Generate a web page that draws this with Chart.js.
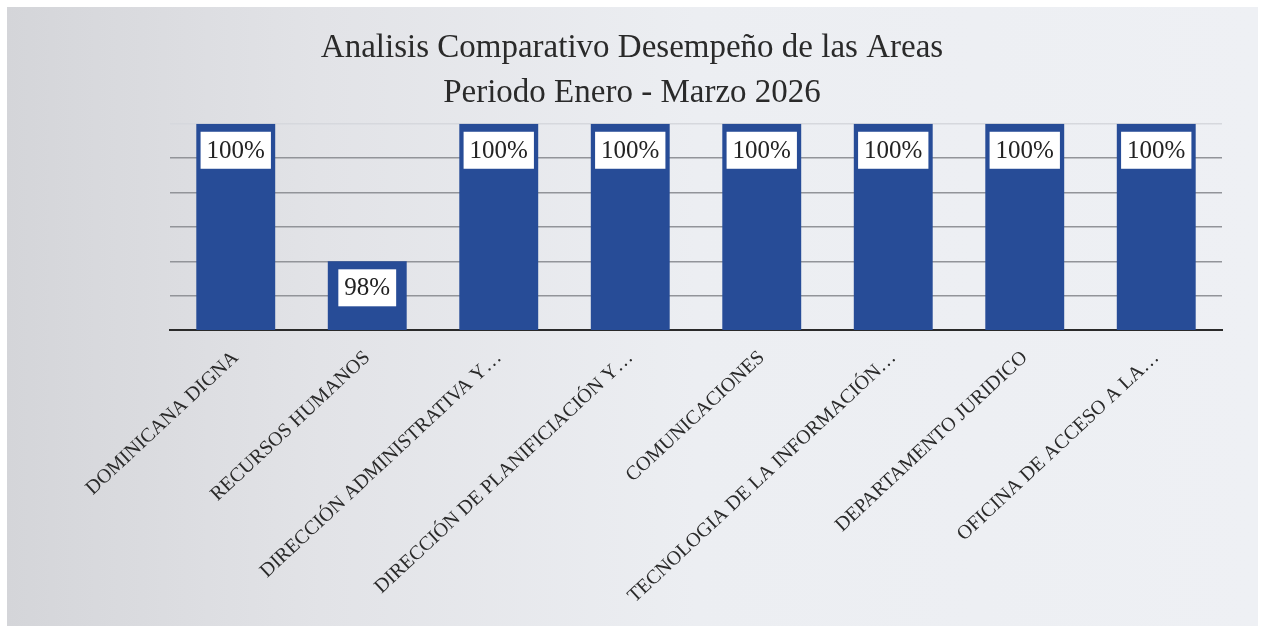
<!DOCTYPE html>
<html>
<head>
<meta charset="utf-8">
<script src="https://cdn.jsdelivr.net/npm/chart.js@4"></script>
<style>
  html, body { margin: 0; padding: 0; background: #ffffff; }
  #frame {
    position: absolute; left: 7px; top: 7px; width: 1251px; height: 619px;
    background: linear-gradient(to right, #d4d5d9 0%, #e2e3e7 25%, #eceef2 55%, #eef0f4 100%);
  }
  #wrap { position: absolute; left: -7px; top: -7px; width: 1264px; height: 626px; }
</style>
</head>
<body>
<div id="frame"><div id="wrap"><canvas id="myChartAreas"></canvas></div></div>
<script>
// datos del grafico
const titulo = ["Analisis Comparativo Desempeño de las Areas", "Periodo Enero - Marzo 2026"];
const areas = [
	"DOMINICANA DIGNA",
	"RECURSOS HUMANOS",
	"DIRECCIÓN ADMINISTRATIVA Y…",
	"DIRECCIÓN DE PLANIFICIACIÓN Y…",
	"COMUNICACIONES",
	"TECNOLOGIA DE LA INFORMACIÓN…",
	"DEPARTAMENTO JURIDICO",
	"OFICINA DE ACCESO A LA…"
];
const desempeno = [100, 98, 100, 100, 100, 100, 100, 100];
const ejeMin = 97;
const ejeMax = 100;
const ejePaso = 0.5;

// etiquetas con fondo blanco dentro de la barra
const etiquetasBarras = {
	id: "etiquetasBarras",
	afterDatasetsDraw(chart) {
		const ctx = chart.ctx;
		const meta = chart.getDatasetMeta(0);
		ctx.save();
		ctx.font = "25px 'Liberation Serif'";
		ctx.textAlign = "center";
		ctx.textBaseline = "middle";
		meta.data.forEach((bar, i) => {
			const txt = desempeno[i] + "%";
			const w = ctx.measureText(txt).width + 12;
			const h = 37;
			const top = bar.y + 8;
			ctx.fillStyle = "#ffffff";
			ctx.fillRect(bar.x - w / 2, top, w, h);
			ctx.fillStyle = "#222222";
			ctx.fillText(txt, bar.x, top + h / 2 + 1);
		});
		ctx.restore();
	}
};

const ctx1 = document.getElementById("myChartAreas").getContext("2d");

let myChartAreas = new Chart(ctx1, {
	type: "bar",
	data: {
		labels: areas,
		datasets: [
			{
				label: "Desempeño",
				data: desempeno,
				backgroundColor: "#274c97",
				borderWidth: 0,
				barPercentage: 0.6,
				categoryPercentage: 1.0,
			}
		],
	},
	options: {
		responsive: true,
		maintainAspectRatio: false,
		animation: false,
		layout: {
			padding: { left: 42, right: 42, top: 26, bottom: 10 }
		},
		scales: {
			y: {
				min: ejeMin,
				max: ejeMax,
				afterFit: (scale) => { scale.width = 128; },
				ticks: {
					display: false,
					stepSize: ejePaso,
				},
				border: { display: false },
				grid: {
					drawTicks: false,
					lineWidth: 1.5,
					color: (c) => c.tick && c.tick.value === ejeMax ? "#d6d8dd" : "#929499",
				}
			},
			x: {
				border: { display: true, color: "#2a2a2a", width: 2 },
				grid: { display: false },
				ticks: {
					color: "#2a2a2a",
					padding: 8,
					minRotation: 43,
					maxRotation: 43,
					autoSkip: false,
					font: { family: "Liberation Serif", size: 20 },
				}
			}
		},
		plugins: {
			legend: { display: false },
			tooltip: { enabled: false },
			title: {
				display: true,
				text: titulo,
				color: "#2a2a2a",
				font: { family: "Liberation Serif", size: 33, weight: "normal", lineHeight: 1.36 },
				padding: { top: 0, bottom: 8 }
			}
		}
	},
	plugins: [etiquetasBarras]
});
</script>
</body>
</html>
